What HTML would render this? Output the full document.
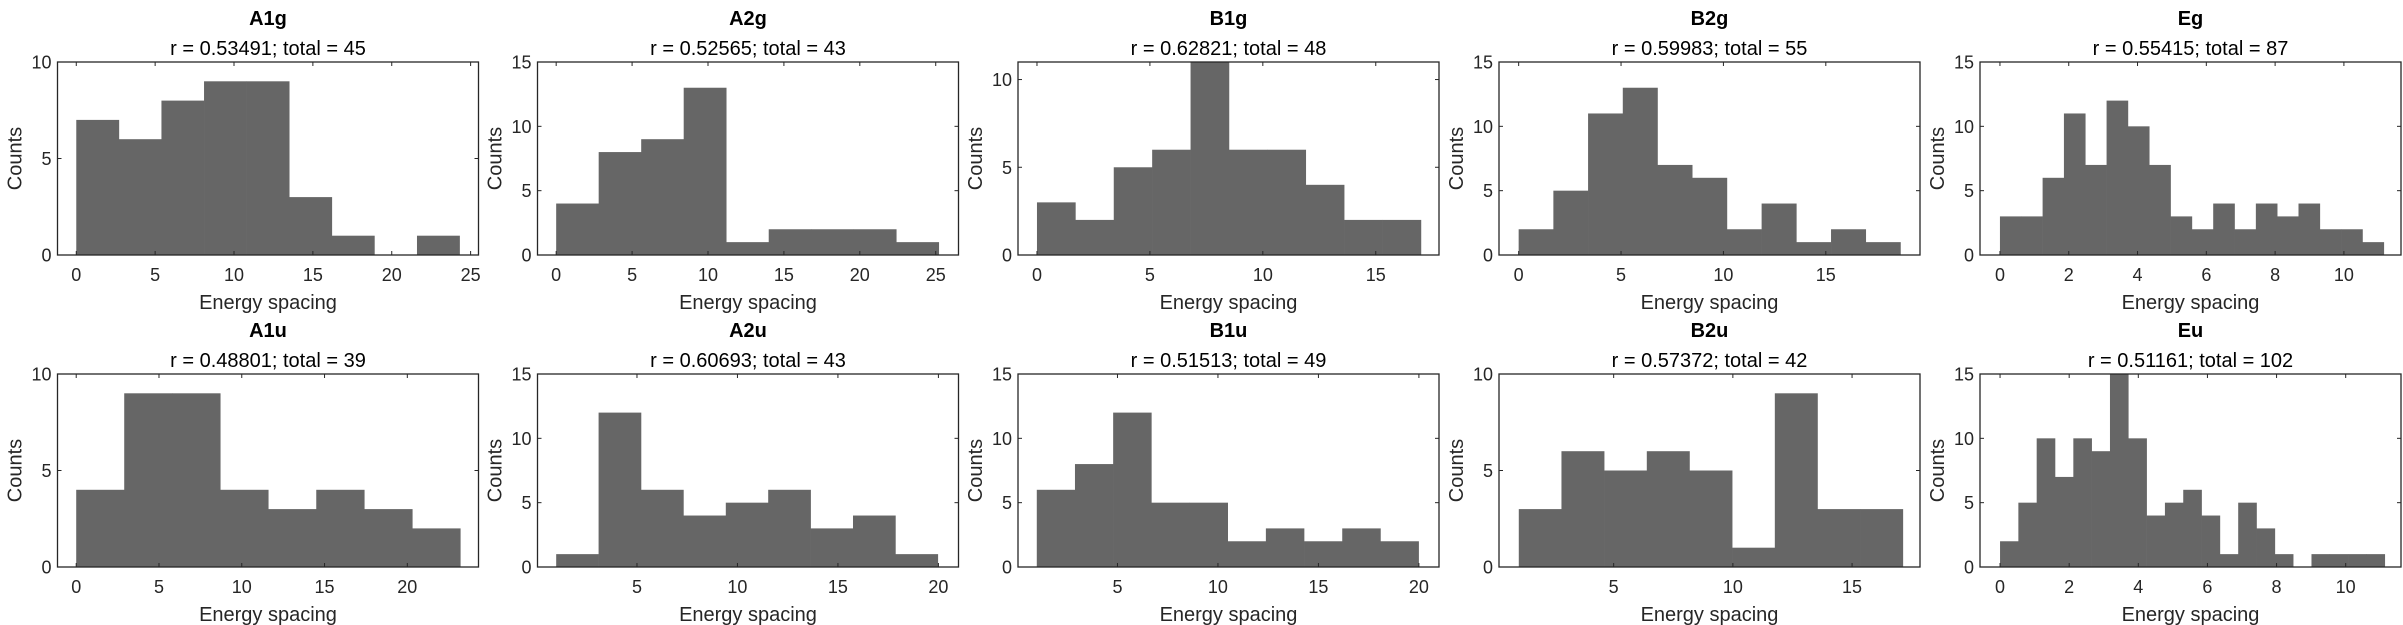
<!DOCTYPE html>
<html><head><meta charset="utf-8">
<style>
html,body{margin:0;padding:0;background:#fff;}
svg{display:block;font-family:"Liberation Sans",Arial,sans-serif;}
</style></head>
<body>
<svg id="fig" width="2403" height="625" viewBox="0 0 2403 625" xmlns="http://www.w3.org/2000/svg"></svg>
<script>
const panelNames = ["A1g","A2g","B1g","B2g","Eg","A1u","A2u","B1u","B2u","Eu"];
const panelSubtitles = ["r = 0.53491; total = 45","r = 0.52565; total = 43","r = 0.62821; total = 48","r = 0.59983; total = 55","r = 0.55415; total = 87",
 "r = 0.48801; total = 39","r = 0.60693; total = 43","r = 0.51513; total = 49","r = 0.57372; total = 42","r = 0.51161; total = 102"];
const countsA1g = [7,6,8,9,9,3,1,0,1];
const countsA2g = [4,8,9,13,1,2,2,2,1];
const countsB1g = [3,2,5,6,11,6,6,4,2,2];
const countsB2g = [2,5,11,13,7,6,2,4,1,2,1];
const countsEg  = [3,3,6,11,7,12,10,7,3,2,4,2,4,3,4,2,2,1];
const countsA1u = [4,9,9,4,3,4,3,2];
const countsA2u = [1,12,6,4,5,6,3,4,1];
const countsB1u = [6,8,12,5,5,2,3,2,3,2];
const countsB2u = [3,6,5,6,5,1,9,3,3];
const countsEu  = [2,5,10,7,10,9,15,10,4,5,6,4,1,5,3,1,0,1,1,1,1];
const allCounts = [countsA1g,countsA2g,countsB1g,countsB2g,countsEg,countsA1u,countsA2u,countsB1u,countsB2u,countsEu];
const binStarts = [0,0,0,0,0,0,0.98,0.985,1.02,0];
const binWidths = [2.70,2.80,1.70,1.695,0.62,2.90,2.11,1.90,1.79,0.53];
const xMins = [-1.19,-1.23,-0.84,-0.96,-0.58,-1.13,0.05,0.05,0.19,-0.58];
const xMaxs = [25.5,26.5,17.8,19.6,11.66,24.3,21.0,21.0,17.85,11.6];
const yMaxs = [10,15,11,15,15,10,15,15,10,15];
const xTicks = [[0,5,10,15,20,25],[0,5,10,15,20,25],[0,5,10,15],[0,5,10,15],[0,2,4,6,8,10],
 [0,5,10,15,20],[5,10,15,20],[5,10,15,20],[5,10,15],[0,2,4,6,8,10]];
const yTicks = [[0,5,10],[0,5,10,15],[0,5,10],[0,5,10,15],[0,5,10,15],[0,5,10],[0,5,10,15],[0,5,10,15],[0,5,10],[0,5,10,15]];

const NS = "http://www.w3.org/2000/svg";
const svg = document.getElementById("fig");
const colLefts = [57.5,537.5,1018,1499,1980];
const axW = 421, axH = 193;
const rowTops = [62,374];
function mk(tag, attrs, parent){
  const e = document.createElementNS(NS, tag);
  for (const k in attrs) e.setAttribute(k, attrs[k]);
  (parent||svg).appendChild(e);
  return e;
}
for (let i = 0; i < 10; i++) {
  const L = colLefts[i % 5], T = rowTops[Math.floor(i / 5)], B = T + axH, R = L + axW;
  const xs = v => L + (v - xMins[i]) / (xMaxs[i] - xMins[i]) * axW;
  const ys = v => B - v / yMaxs[i] * axH;
  const g = mk("g", {});
  
  
  const counts = allCounts[i];
  for (let j = 0; j < counts.length; j++) {
    if (counts[j] <= 0) continue;
    const x0 = xs(binStarts[i] + j * binWidths[i]), x1 = xs(binStarts[i] + (j + 1) * binWidths[i]);
    const r = mk("rect", {x: x0, y: ys(counts[j]), width: x1 - x0 + 0.3, height: B - ys(counts[j]), fill: "#666666"}, g);
    
    
  }
  const box = mk("rect", {x: L, y: T, width: axW, height: axH, fill: "none", stroke: "#262626", "stroke-width": 1.3}, g);
  
  
  xTicks[i].forEach(v => {
    const x = xs(v);
    mk("line", {x1: x, y1: B, x2: x, y2: B - 4, stroke: "#262626", "stroke-width": 1}, g);
    mk("line", {x1: x, y1: T, x2: x, y2: T + 4, stroke: "#262626", "stroke-width": 1}, g);
    const t = mk("text", {x: x, y: B + 26, "text-anchor": "middle", "font-size": 18, fill: "#262626"}, g);
    t.textContent = v;
    
    
  });
  yTicks[i].forEach(v => {
    const y = ys(v);
    mk("line", {x1: L, y1: y, x2: L + 4, y2: y, stroke: "#262626", "stroke-width": 1}, g);
    mk("line", {x1: R, y1: y, x2: R - 4, y2: y, stroke: "#262626", "stroke-width": 1}, g);
    const t = mk("text", {x: L - 6, y: y + 6.5, "text-anchor": "end", "font-size": 18, fill: "#262626"}, g);
    t.textContent = v;
    
    
  });
  const xl = mk("text", {x: L + axW / 2, y: B + 54, "text-anchor": "middle", "font-size": 20, fill: "#262626"}, g);
  xl.textContent = "Energy spacing";
  
  
  const yl = mk("text", {x: 0, y: 0, "text-anchor": "middle", "font-size": 20, fill: "#262626", transform: "translate(" + (L - 36) + "," + (T + axH / 2) + ") rotate(-90)"}, g);
  yl.textContent = "Counts";
  
  
  const tt = mk("text", {x: L + axW / 2, y: T - 37, "text-anchor": "middle", "font-size": 20, "font-weight": "bold", fill: "#000"}, g);
  tt.textContent = panelNames[i];
  
  
  const st = mk("text", {x: L + axW / 2, y: T - 7, "text-anchor": "middle", "font-size": 20, fill: "#000"}, g);
  st.textContent = panelSubtitles[i];
  
  
}
</script>
</body></html>
